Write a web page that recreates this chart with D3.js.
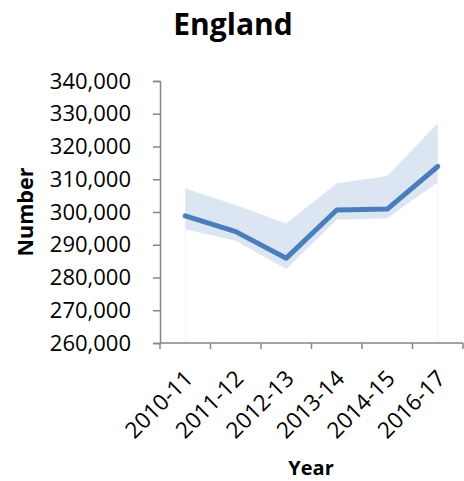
<!DOCTYPE html>
<html>
<head>
<meta charset="utf-8">
<script src="https://cdn.jsdelivr.net/npm/d3@7"></script>
<style>
  html, body { margin: 0; padding: 0; background: #fff; }
  svg { display: block; }
  text { font-family: "Open Sans", "Noto Sans", sans-serif; fill: #000; }
</style>
</head>
<body>
<svg id="chart" width="464" height="481"></svg>
<script>
// Estimated numbers by year, England, with the lower and upper interval bounds
const years = ["2010-11", "2011-12", "2012-13", "2013-14", "2014-15", "2016-17"];
const estimate = [298800, 294000, 285900, 300600, 300900, 313900];
const lower = [294700, 291200, 282600, 297600, 298100, 309100];
const upper = [307200, 302100, 296500, 308800, 311000, 327100];
const yTicks = [260000, 270000, 280000, 290000, 300000, 310000, 320000, 330000, 340000];

const svg = d3.select("#chart");
const plotLeft = 160, plotRight = 463, plotTop = 81, plotBottom = 343;

const x = d3.scaleBand().domain(years).range([plotLeft, plotRight]).padding(0);
const y = d3.scaleLinear().domain([260000, 340000]).range([plotBottom, plotTop]);
const cx = d => x(d) + x.bandwidth() / 2;

const rows = years.map((yr, i) => ({ yr, est: estimate[i], lo: lower[i], hi: upper[i] }));

// faint edges of the white area under the band
svg.append("g")
  .selectAll("line")
  .data([rows[0], rows[rows.length - 1]])
  .join("line")
  .attr("x1", d => cx(d.yr)).attr("x2", d => cx(d.yr))
  .attr("y1", d => y(d.lo)).attr("y2", y(260000))
  .attr("stroke", "#f1f4f9").attr("stroke-width", 1);

// interval band
svg.append("path")
  .datum(rows)
  .attr("fill", "#dce6f2")
  .attr("d", d3.area().x(d => cx(d.yr)).y0(d => y(d.lo)).y1(d => y(d.hi)));

// estimate line
svg.append("path")
  .datum(rows)
  .attr("fill", "none")
  .attr("stroke", "#4a7ebb")
  .attr("stroke-width", 5)
  .attr("stroke-linejoin", "round")
  .attr("stroke-linecap", "round")
  .attr("d", d3.line().x(d => cx(d.yr)).y(d => y(d.est)));

// y axis
const yAxis = svg.append("g")
  .attr("transform", `translate(${plotLeft},0)`)
  .call(d3.axisLeft(y).tickValues(yTicks).tickFormat(d3.format(",")).tickSizeOuter(0).tickSize(7).tickPadding(22));
yAxis.select(".domain").attr("stroke", "#868686").attr("stroke-width", 1.5);
yAxis.selectAll(".tick line").attr("stroke", "#868686").attr("stroke-width", 1.5);
yAxis.selectAll(".tick text").attr("font-size", 22).attr("font-family", "Open Sans").attr("fill", "#000");

// x axis: ticks at category boundaries
const xAxis = svg.append("g").attr("transform", `translate(0,${plotBottom})`);
xAxis.append("line")
  .attr("x1", plotLeft).attr("x2", plotRight).attr("y1", 0).attr("y2", 0)
  .attr("stroke", "#868686").attr("stroke-width", 1.5);
const bounds = years.map(d => x(d)).concat([x(years[years.length - 1]) + x.bandwidth()]);
xAxis.selectAll("line.bt")
  .data(bounds)
  .join("line").attr("class", "bt")
  .attr("x1", d => d).attr("x2", d => d).attr("y1", 0).attr("y2", 6)
  .attr("stroke", "#868686").attr("stroke-width", 1.5);
xAxis.selectAll("text")
  .data(years)
  .join("text")
  .attr("text-anchor", "end")
  .attr("font-size", 22.5)
  .attr("transform", d => `translate(${cx(d) + 9},${37}) rotate(-45)`)
  .text(d => d);

// titles
svg.append("text")
  .attr("x", 233).attr("y", 35)
  .attr("text-anchor", "middle")
  .attr("font-size", 30).attr("font-weight", "bold")
  .text("England");

svg.append("text")
  .attr("x", 311).attr("y", 475)
  .attr("text-anchor", "middle")
  .attr("font-size", 20).attr("font-weight", "bold")
  .text("Year");

svg.append("text")
  .attr("transform", "translate(33,212) rotate(-90)")
  .attr("text-anchor", "middle")
  .attr("font-size", 21.5).attr("font-weight", "bold")
  .text("Number");
</script>
</body>
</html>
